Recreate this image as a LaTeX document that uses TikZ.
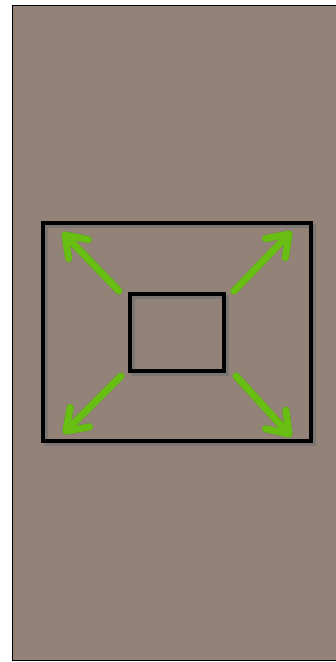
\documentclass[tikz,border=0pt]{standalone}
\usetikzlibrary{calc}

\definecolor{panelbg}{RGB}{146,130,120}
\definecolor{expandgreen}{RGB}{104,190,18}
\definecolor{greenshade}{RGB}{70,115,30}

\tikzset{
  box/.style={draw=black, line width=4pt, inner sep=0pt},
  boxshade/.style={draw=black!55, line width=4pt, inner sep=0pt, opacity=0.8},
  expand/.style={draw=expandgreen, line width=7pt, line cap=round, line join=round},
  expandshade/.style={expand, draw=greenshade, xshift=2pt, yshift=-2.5pt}
}

\begin{document}
\begin{tikzpicture}[x=1pt, y=-1pt]
    \useasboundingbox (0,0) rectangle (336,662);
    \fill[panelbg] (12.5,5.5) rectangle (340,660.5);
    \draw[line width=1pt] (340,5.5) -- (12.5,5.5) -- (12.5,660.5) -- (340,660.5);

    % frame and inner window, shadow first
    \node[boxshade, minimum width=268pt, minimum height=218pt] at (180,335) {};
    \node[boxshade, minimum width=94pt, minimum height=77pt] at (180,335.5) {};
    \node[box, minimum width=268pt, minimum height=218pt] (frame) at (177,332) {};
    \node[box, minimum width=94pt, minimum height=77pt] (window) at (177,332.5) {};

    % arrows from the window out to the frame corners
    \coordinate (tl) at (65,235);
    \coordinate (tr) at (289,234);
    \coordinate (bl) at (66,431);
    \coordinate (br) at (289,434);
    \coordinate (tlstart) at (119,291);
    \coordinate (trstart) at (234,291);
    \coordinate (blstart) at (121,376);
    \coordinate (brstart) at (236,376);

    \foreach \c in {tl, tr, bl, br}
      \draw[expandshade] (\c start) -- (\c)
        ($(\c)!24pt!35:(\c start)$) -- (\c) -- ($(\c)!24pt!-35:(\c start)$);
    \foreach \c in {tl, tr, bl, br}
      \draw[expand] (\c start) -- (\c)
        ($(\c)!24pt!35:(\c start)$) -- (\c) -- ($(\c)!24pt!-35:(\c start)$);
  \end{tikzpicture}
\end{document}
